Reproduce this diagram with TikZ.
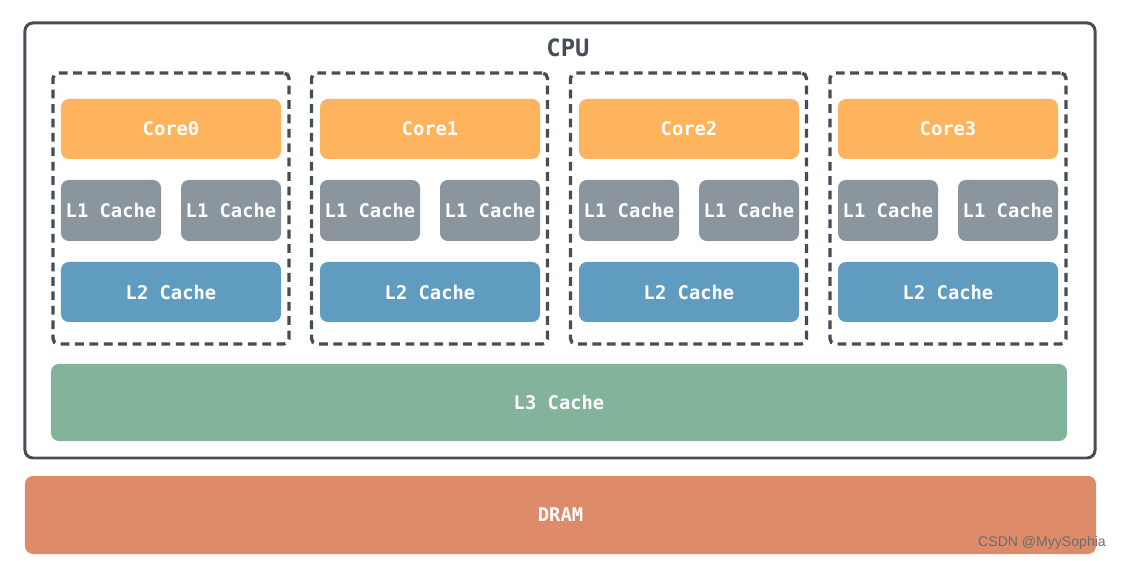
\documentclass[tikz,border=0pt]{standalone}
\usepackage{fontspec}
\setmonofont{DejaVu Sans Mono}
\newfontfamily\markfont{Liberation Sans}
\usepackage{xcolor}
\usepackage{tikz}
\usetikzlibrary{positioning}
\definecolor{cpuGray}{HTML}{454D57}
\definecolor{coreOrange}{HTML}{FDB45C}
\definecolor{lOneGray}{HTML}{8A959E}
\definecolor{lTwoBlue}{HTML}{609CBF}
\definecolor{lThreeGreen}{HTML}{83B39B}
\definecolor{dramOrange}{HTML}{DD8B69}

\begin{document}
\begin{tikzpicture}[x=0.2mm, y=-0.2mm, font=\ttfamily\bfseries\fontsize{10.7}{12}\selectfont,
  box/.style={rounded corners=4.5pt, inner sep=0pt, text=white, align=center},
  core/.style={box, fill=coreOrange, minimum width=44mm, minimum height=12mm},
  lone/.style={box, fill=lOneGray, minimum width=20mm, minimum height=12.2mm},
  ltwo/.style={box, fill=lTwoBlue, minimum width=44mm, minimum height=12mm},
  group/.style={draw=cpuGray, line width=1.9pt, dash pattern=on 5pt off 3.2pt, rounded corners=3pt, minimum width=47.2mm, minimum height=54.2mm, inner sep=0pt}]
\useasboundingbox (0,0) rectangle (1121,561);
% cpu frame and label
\node[draw=cpuGray, line width=1.7pt, rounded corners=4.5pt, minimum width=214mm, minimum height=87mm, inner sep=0pt] (cpu) at (560,240.5) {};
\node[text=cpuGray, font=\ttfamily\bfseries\fontsize{13.6}{15}\selectfont] (cpulabel) at (568,48) {CPU};
% four cores
\node[group] (G0) at (171,208.5) {};
\node[group] (G1) at (429.5,208.5) {};
\node[group] (G2) at (688.5,208.5) {};
\node[group] (G3) at (948,208.5) {};
\node[core] (C0) at (171,129) {Core0};
\node[core] (C1) at (430,129) {Core1};
\node[core] (C2) at (689,129) {Core2};
\node[core] (C3) at (948,129) {Core3};
% L1 caches, two per core
\node[lone] (A0) at (111,210.5) {L1 Cache};
\node[lone] (B0) at (231,210.5) {L1 Cache};
\node[lone] (A1) at (370,210.5) {L1 Cache};
\node[lone] (B1) at (490,210.5) {L1 Cache};
\node[lone] (A2) at (629,210.5) {L1 Cache};
\node[lone] (B2) at (749,210.5) {L1 Cache};
\node[lone] (A3) at (888,210.5) {L1 Cache};
\node[lone] (B3) at (1008,210.5) {L1 Cache};
% L2 caches
\node[ltwo] (T0) at (171,292) {L2 Cache};
\node[ltwo] (T1) at (430,292) {L2 Cache};
\node[ltwo] (T2) at (689,292) {L2 Cache};
\node[ltwo] (T3) at (948,292) {L2 Cache};
% shared L3 and memory
\node[box, fill=lThreeGreen, minimum width=203.2mm, minimum height=15.4mm] (L3) at (559,402.5) {L3 Cache};
\node[box, fill=dramOrange, minimum width=214.2mm, minimum height=15.6mm] (DRAM) at (560.5,515) {DRAM};
\node[text=gray!85!black, font=\markfont\fontsize{8}{10}\selectfont, inner sep=0pt] (mark) at (1042,543) {CSDN @MyySophia};
\end{tikzpicture}
\end{document}
